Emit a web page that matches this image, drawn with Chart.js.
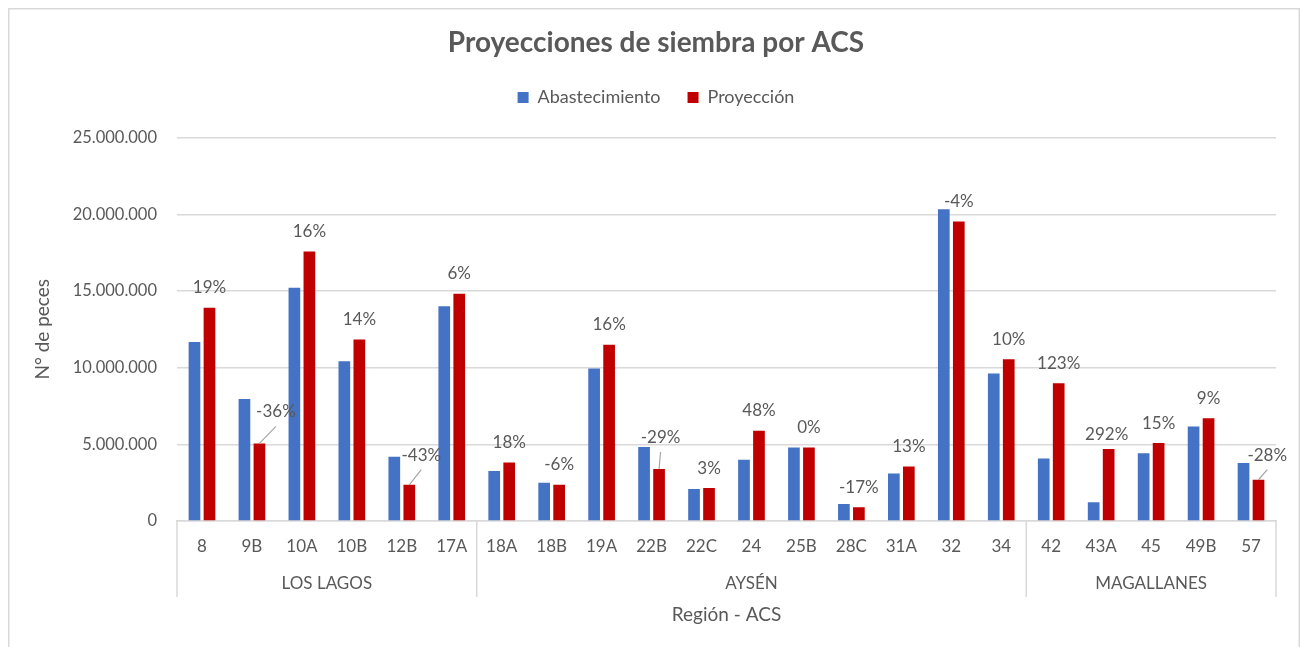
<!DOCTYPE html>
<html><head><meta charset="utf-8">
<script src="https://cdn.jsdelivr.net/npm/chart.js@4/dist/chart.umd.min.js"></script>
<style>html,body{margin:0;padding:0;background:#fff}#wrap{width:1301px;height:647px}</style>
</head><body><div id="wrap"><canvas id="c" width="1301" height="647"></canvas></div>
<script>
const categories = ['8','9B','10A','10B','12B','17A','18A','18B','19A','22B','22C','24','25B','28C','31A','32','34','42','43A','45','49B','57'];
const regions = ['LOS LAGOS','AYSÉN','MAGALLANES'];
const regionCounts = [6, 11, 5];
const abastecimiento = [11670000, 7960000, 15210000, 10420000, 4190000, 14000000, 3260000, 2490000, 9940000, 4820000, 2080000, 3990000, 4800000, 1110000, 3100000, 20330000, 9620000, 4080000, 1220000, 4410000, 6170000, 3780000];
const proyeccion = [13910000, 5060000, 17580000, 11830000, 2360000, 14820000, 3820000, 2370000, 11500000, 3390000, 2150000, 5890000, 4800000, 890000, 3550000, 19530000, 10550000, 8980000, 4690000, 5080000, 6700000, 2690000];
const variacion = ['19%','-36%','16%','14%','-43%','6%','18%','-6%','16%','-29%','3%','48%','0%','-17%','13%','-4%','10%','123%','292%','15%','9%','-28%'];
const yMax = 25000000;
const yStep = 5000000;

const FONT = 'Lato, "Liberation Sans", sans-serif';
const GREY = '#595959';
const LINE = '#d9d9d9';
const PAD_LEFT = 36;

// label placement tweaks (dx, dy from bar top) for labels with leader lines
const labelShift = {1:[16.5,-31.5,true], 4:[12,-29.7,true], 9:[1.5,-31.5,true], 21:[8.7,-24.7,true], 18:[-2,-15,false]};

const decor = {
  id: 'decor',
  beforeInit(chart) {
    const lg = chart.legend;
    if (lg) {
      const orig = lg.fit;
      lg.fit = function () { orig.call(this); this.height += 21; };
    }
  },
  beforeDraw(chart) {
    const ctx = chart.ctx;
    ctx.save();
    ctx.fillStyle = '#fff';
    ctx.fillRect(0, 0, chart.width, chart.height);
    ctx.strokeStyle = LINE;
    ctx.lineWidth = 1.5;
    ctx.strokeRect(8.75, 8.75, 1290.5, 700);
    ctx.restore();
  },
  afterDraw(chart) {
    const ctx = chart.ctx;
    const x = chart.scales.x;
    const area = chart.chartArea;
    ctx.save();
    ctx.strokeStyle = LINE;
    ctx.lineWidth = 1.5;
    const half = (x.getPixelForValue(1) - x.getPixelForValue(0)) / 2;
    let start = 0;
    const bounds = [area.left];
    regionCounts.forEach((n) => {
      start += n;
      bounds.push(start >= categories.length ? area.right : x.getPixelForValue(start) - half);
    });
    bounds.forEach((bx) => {
      ctx.beginPath();
      ctx.moveTo(bx, area.bottom);
      ctx.lineTo(bx, 597);
      ctx.stroke();
    });
    ctx.fillStyle = GREY;
    ctx.font = '17px ' + FONT;
    ctx.textAlign = 'center';
    ctx.textBaseline = 'middle';
    regions.forEach((r, i) => {
      ctx.fillText(r, (bounds[i] + bounds[i + 1]) / 2, 584);
    });
    const meta = chart.getDatasetMeta(1);
    meta.data.forEach((bar, i) => {
      const s = labelShift[i];
      const dx = s ? s[0] : 0;
      const dy = s ? s[1] : -20;
      const lx = bar.x + dx, ly = bar.y + dy;
      if (s && s[2]) {
        ctx.strokeStyle = '#a6a6a6';
        ctx.lineWidth = 1.2;
        ctx.beginPath();
        ctx.moveTo(bar.x, bar.y);
        ctx.lineTo(lx, ly + 14.5);
        ctx.stroke();
      }
      ctx.fillStyle = GREY;
      ctx.fillText(variacion[i], lx, ly);
    });
    ctx.restore();
  }
};

new Chart(document.getElementById('c'), {
  type: 'bar',
  data: {
    labels: categories,
    datasets: [
      { label: 'Abastecimiento', data: abastecimiento, backgroundColor: '#4472C4', categoryPercentage: 0.6, barPercentage: 0.78 },
      { label: 'Proyección', data: proyeccion, backgroundColor: '#C00000', categoryPercentage: 0.6, barPercentage: 0.78 }
    ]
  },
  options: {
    responsive: false,
    animation: false,
    layout: { padding: { left: PAD_LEFT, right: 25, top: 0, bottom: 0 } },
    plugins: {
      title: { display: true, text: 'Proyecciones de siembra por ACS', color: GREY,
        font: { family: FONT, size: 28, weight: 'bold' }, padding: { top: 26, bottom: 2 } },
      legend: { display: true, position: 'top',
        labels: { color: GREY, boxWidth: 11, boxHeight: 11, padding: 27, font: { family: FONT, size: 18 } } },
      tooltip: { enabled: false }
    },
    scales: {
      x: {
        grid: { display: false, drawTicks: false },
        border: { display: true, color: LINE, width: 1.5 },
        ticks: { color: GREY, padding: 15, font: { family: FONT, size: 17 }, maxRotation: 0, autoSkip: false },
        title: { display: true, text: 'Región - ACS', color: GREY, font: { family: FONT, size: 19 }, padding: { top: 0, bottom: 21 } },
        afterFit(s) { s.height = 126; }
      },
      y: {
        min: 0, max: yMax,
        grid: { color: LINE, lineWidth: 1.5, drawTicks: false },
        border: { display: false },
        ticks: { stepSize: yStep, color: GREY, padding: 20, font: { family: FONT, size: 16.5 },
          callback: (v) => String(v).replace(/\B(?=(\d{3})+(?!\d))/g, '.') },
        title: { display: true, text: 'N° de peces', color: GREY, font: { family: FONT, size: 19 }, padding: { top: 43 - PAD_LEFT - 11.4, bottom: 0 } },
        afterFit(s) { s.width = 177 - PAD_LEFT; }
      }
    }
  },
  plugins: [decor]
});
</script></body></html>
